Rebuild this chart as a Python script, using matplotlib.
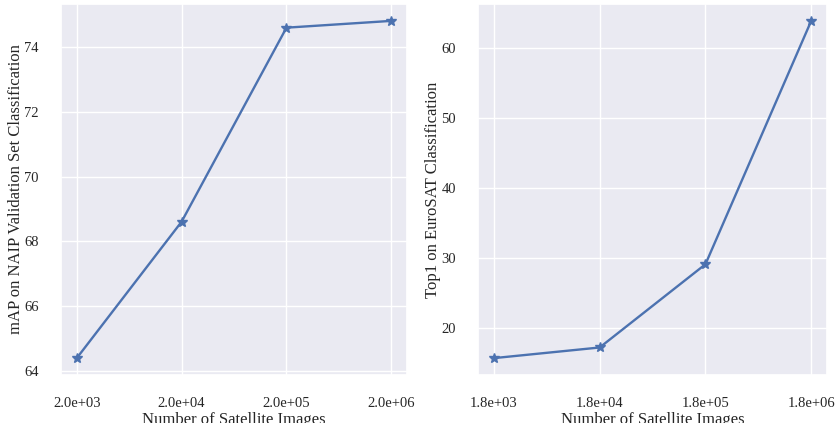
import numpy as np
import matplotlib
matplotlib.use("Agg")
import matplotlib.pyplot as plt
import seaborn as sns

sns.set_theme(style="darkgrid")
plt.rcParams['font.family'] = ['Liberation Serif', 'DejaVu Serif']

# NAIP (left) and EuroSAT (right) results vs dataset size
naip_n = [2e3, 2e4, 2e5, 2e6]
naip_map = [64.39, 68.61, 74.61, 74.82]

euro_n = [1.8e3, 1.8e4, 1.8e5, 1.8e6]
euro_top1 = [15.65, 17.17, 29.06, 63.83]

fig = plt.figure(figsize=(8.35, 4.23), dpi=100)
ax1 = fig.add_axes([0.0731, 0.1135, 0.4144, 0.877])
ax2 = fig.add_axes([0.5725, 0.1135, 0.418, 0.877])

col = '#4c72b0'

ax1.plot(naip_n, naip_map, '-*', color=col, markersize=7, linewidth=1.7)
ax1.set_xscale('log')
ax1.set_xticks(naip_n)
ax1.set_xticklabels(['%.1e' % v for v in naip_n])
ax1.minorticks_off()
ax1.set_ylabel('mAP on NAIP Validation Set Classification', fontsize=12, labelpad=0)
ax1.set_xlabel('Number of Satellite Images', fontsize=12)

ax2.plot(euro_n, euro_top1, '-*', color=col, markersize=7, linewidth=1.7)
ax2.set_xscale('log')
ax2.set_xticks(euro_n)
ax2.set_xticklabels(['%.1e' % v for v in euro_n])
ax2.minorticks_off()
ax2.set_ylabel('Top1 on EuroSAT Classification', fontsize=12, labelpad=0)
ax2.set_xlabel('Number of Satellite Images', fontsize=12)

for ax in (ax1, ax2):
    ax.tick_params(axis='both', labelsize=10.5, pad=10)
    ax.xaxis.labelpad = 1

fig.savefig('out.png', dpi=100)
